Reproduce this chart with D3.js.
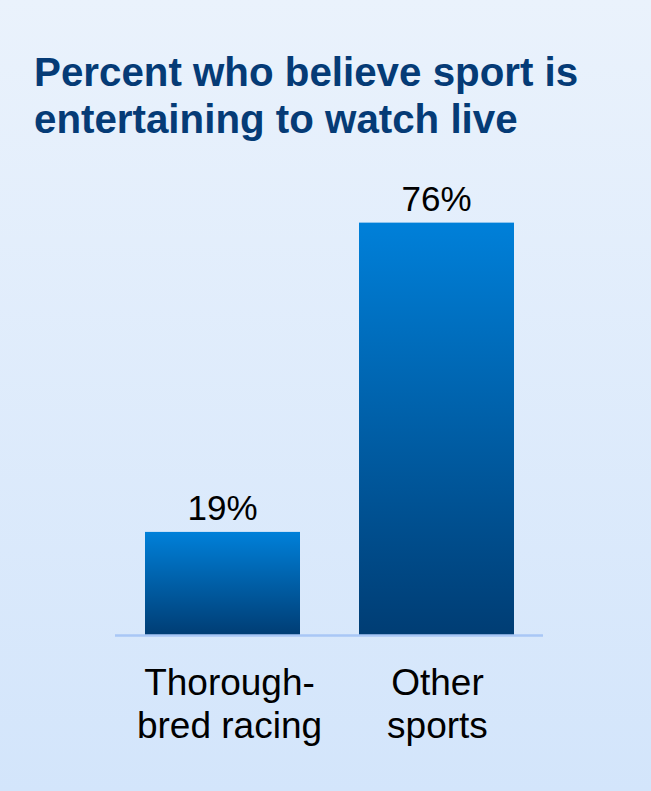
<!DOCTYPE html>
<html>
<head>
<meta charset="utf-8">
<script src="https://cdn.jsdelivr.net/npm/d3@7"></script>
<style>
  html, body { margin: 0; padding: 0; }
  body { width: 651px; height: 791px; overflow: hidden; }
</style>
</head>
<body>
<div id="chart"></div>
<script>
const titleLines = ["Percent who believe sport is", "entertaining to watch live"];
const categories = ["Thoroughbred racing", "Other sports"];
const categoryLabelLines = [["Thorough-", "bred racing"], ["Other", "sports"]];
const values = [19, 76];
const valueLabels = ["19%", "76%"];

const W = 651, H = 791;
const svg = d3.select("#chart").append("svg").attr("width", W).attr("height", H);
const defs = svg.append("defs");

const bg = defs.append("linearGradient").attr("id", "bg").attr("x1", 0).attr("y1", 0).attr("x2", 0).attr("y2", 1);
bg.append("stop").attr("offset", "0%").attr("stop-color", "#eaf2fc");
bg.append("stop").attr("offset", "100%").attr("stop-color", "#d3e5fb");

const bar = defs.append("linearGradient").attr("id", "barGrad").attr("x1", 0).attr("y1", 0).attr("x2", 0).attr("y2", 1);
bar.append("stop").attr("offset", "0%").attr("stop-color", "#0080d9");
bar.append("stop").attr("offset", "100%").attr("stop-color", "#003d74");

svg.append("rect").attr("width", W).attr("height", H).attr("fill", "url(#bg)");

// Title
svg.append("g").selectAll("text").data(titleLines).join("text")
  .attr("x", 34)
  .attr("y", (d, i) => 86 + i * 47)
  .attr("font-family", "'Liberation Sans', Arial, sans-serif")
  .attr("font-weight", "bold")
  .attr("font-size", 40.3)
  .attr("fill", "#053b76")
  .text(d => d);

const baseline = 635;
const y = d3.scaleLinear().domain([0, 100]).range([baseline, 92.4]);
const x = d3.scaleBand().domain(categories).range([80.8, 578.2]).paddingInner(0.2757).paddingOuter(0.3);

// Bars
svg.append("g").selectAll("rect").data(values).join("rect")
  .attr("x", (d, i) => x(categories[i]))
  .attr("y", d => y(d))
  .attr("width", x.bandwidth())
  .attr("height", d => baseline - y(d))
  .attr("fill", "url(#barGrad)");

// Baseline
svg.append("line")
  .attr("x1", 115).attr("x2", 543)
  .attr("y1", baseline + 0.5).attr("y2", baseline + 0.5)
  .attr("stroke", "#a9c7f6").attr("stroke-width", 2.5);

// Value labels
svg.append("g").selectAll("text").data(values).join("text")
  .attr("x", (d, i) => x(categories[i]) + x.bandwidth() / 2)
  .attr("y", d => y(d) - 12)
  .attr("text-anchor", "middle")
  .attr("font-family", "'Liberation Sans', Arial, sans-serif")
  .attr("font-size", 35)
  .attr("fill", "#000")
  .text((d, i) => valueLabels[i]);

// Category labels
const catG = svg.append("g").selectAll("text").data(categories).join("text")
  .attr("text-anchor", "middle")
  .attr("font-family", "'Liberation Sans', Arial, sans-serif")
  .attr("font-size", 37)
  .attr("fill", "#000");
catG.each(function(d, i) {
  const cx = x(d) + x.bandwidth() / 2 + (i === 0 ? 7 : 1);
  d3.select(this).selectAll("tspan").data(categoryLabelLines[i]).join("tspan")
    .attr("x", cx)
    .attr("y", (t, j) => 695 + j * 43)
    .text(t => t);
});
</script>
</body>
</html>
